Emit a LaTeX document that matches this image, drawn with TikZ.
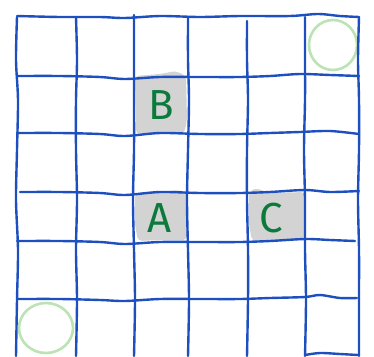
\documentclass[tikz,border=0pt]{standalone}
\usepackage{fontspec}
\setmainfont{Fira Sans}
\definecolor{gridblue}{HTML}{1D4FBF}
\definecolor{circgreen}{HTML}{BCE3B4}
\definecolor{txtgreen}{HTML}{0B7A3B}
\definecolor{cellgray}{HTML}{D3D3D3}
\begin{document}
\begin{tikzpicture}[x=1pt,y=-1pt,
  gridline/.style={draw=gridblue,line width=2.4pt,line cap=round,line join=round},
  shade/.style={fill=cellgray,rounded corners=4pt},
  letter/.style={text=txtgreen,font=\fontsize{42}{42}\selectfont,inner sep=0pt},
  ring/.style={draw=circgreen,line width=2.6pt}]
\useasboundingbox (0,0) rectangle (374,356);
\clip (0,0) rectangle (374,356);
% shaded cells
\fill[shade] (135,76) -- (160,74) -- (176,71) -- (186,76) -- (187,120) -- (184,134) -- (160,132) -- (136,134) -- cycle;
\fill[shade] (135,193) -- (160,192) -- (180,190) -- (187,193) -- (187,240) -- (160,240) -- (138,241) -- (135,225) -- cycle;
\fill[shade] (249,192) -- (255,188) -- (270,193) -- (305,192) -- (304,240) -- (275,240) -- (252,241) -- (249,225) -- cycle;
% letters
\node[letter] (B) at (161,105) {B};
\node[letter] (A) at (160,218) {A};
\node[letter] (C) at (271,218) {C};
% circles
\draw[ring] (333,45) ellipse [x radius=24pt, y radius=25pt];
\draw[ring] (46,328) ellipse [x radius=27pt, y radius=25pt];
% horizontal lines
\draw[gridline] plot[smooth] coordinates {(17,16) (60,17) (100,17) (125,18) (160,16) (200,17) (240,16) (290,16) (318,14) (340,16) (359,17)};
\draw[gridline] plot[smooth] coordinates {(17,76) (60,76) (100,77) (125,79) (160,77) (200,77) (240,77) (270,76) (300,74) (330,75) (359,76)};
\draw[gridline] plot[smooth] coordinates {(17,133) (60,133) (100,134) (125,136) (160,133) (200,134) (240,134) (270,133) (300,132) (330,131) (359,134)};
\draw[gridline] plot[smooth] coordinates {(20,192) (60,192) (100,193) (125,195) (160,192) (200,193) (240,193) (270,192) (305,190) (330,192) (359,191)};
\draw[gridline] plot[smooth] coordinates {(17,241) (60,241) (100,242) (125,244) (160,242) (200,242) (240,242) (270,241) (305,239) (330,240) (355,241)};
\draw[gridline] plot[smooth] coordinates {(17,299) (60,299) (100,300) (125,301) (160,299) (200,299) (240,299) (270,298) (305,297) (320,295) (340,298) (357,298)};
\draw[gridline] plot[smooth] coordinates {(305,355) (320,353) (340,354) (358,355)};
% vertical lines
\draw[gridline] plot[smooth] coordinates {(17,17) (16,60) (18,100) (17,150) (16,200) (18,250) (17,300) (16,356)};
\draw[gridline] plot[smooth] coordinates {(76,17) (77,60) (76,100) (76,150) (77,200) (76,250) (77,300) (76,356)};
\draw[gridline] plot[smooth] coordinates {(134,15) (134,60) (134,100) (134,150) (133,200) (134,250) (135,300) (134,356)};
\draw[gridline] plot[smooth] coordinates {(188,17) (188,60) (189,100) (188,150) (187,200) (188,250) (189,300) (188,356)};
\draw[gridline] plot[smooth] coordinates {(247,21) (247,60) (248,100) (247,150) (247,200) (248,250) (248,300) (247,356)};
\draw[gridline] plot[smooth] coordinates {(305,17) (305,60) (305,100) (304,150) (305,200) (305,250) (306,300) (305,356)};
\draw[gridline] plot[smooth] coordinates {(359,17) (358,60) (359,100) (359,150) (358,200) (359,250) (359,300) (359,356)};
\end{tikzpicture}
\end{document}
